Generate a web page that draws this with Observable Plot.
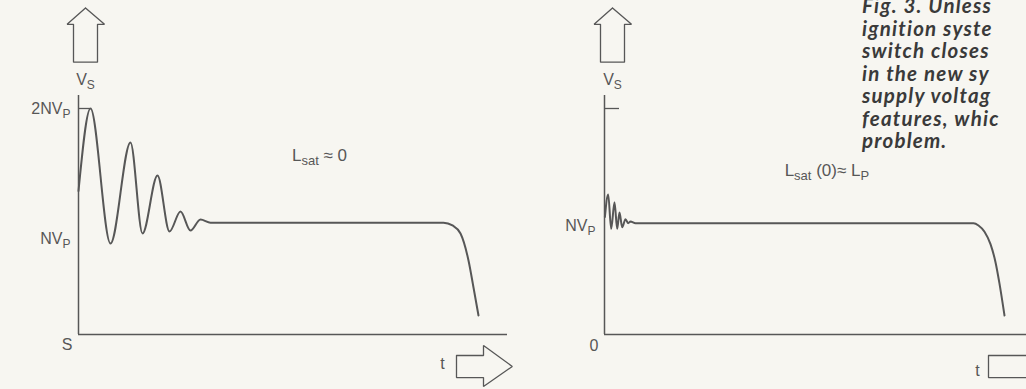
<!DOCTYPE html>
<html><head><meta charset="utf-8">
<script src="https://cdn.jsdelivr.net/npm/d3@7"></script>
<script src="https://cdn.jsdelivr.net/npm/@observablehq/plot@0.6"></script>
<style>
html,body{margin:0;padding:0;background:#f7f6f1;overflow:hidden;}
#wrap{position:relative;width:1026px;height:389px;overflow:hidden;}
#wrap svg{position:absolute;top:0;}
#caption{position:absolute;left:862px;top:-6px;font-family:"Lato";font-weight:700;font-style:italic;font-size:20.5px;line-height:22.5px;letter-spacing:1.2px;color:#3a3a3a;white-space:nowrap;}
</style></head><body>
<div id="wrap"><div id="caption"></div></div>
<script>
// ---------- data (t: time units, v: voltage in units of NV_P) ----------
const leftCurveT = [0, 3, 8, 13, 16, 19.75, 22.75, 25.5, 28, 30.5, 33, 91.25, 93.5, 95.5, 97.5, 98.75, 100];
const leftCurveV = [1.27, 2.0, 0.805, 1.70, 0.894, 1.407, 0.912, 1.088, 0.92, 1.018, 0.99, 0.99, 0.965, 0.894, 0.655, 0.416, 0.168];
const rightCurveT = [0.1, 0.92, 1.67, 2.5, 3.17, 3.75, 4.42, 5.25, 5.9, 6.5, 7.75, 92.25, 93.5, 95, 96.5, 97.75, 98.75, 100];
const rightCurveV = [1.04, 1.24, 0.935, 1.17, 0.935, 1.08, 0.95, 1.02, 0.985, 1.0, 0.985, 0.985, 0.965, 0.91, 0.8, 0.64, 0.45, 0.168];

const leftTickValues = [2, 1, 0];
const leftTickLabels = ["2NV_P", "NV_P", "S"];
const rightTickValues = [2, 1, 0];
const rightTickLabels = ["", "NV_P", "0"];

const leftAnnotation = "L_sat ≈ 0";
const rightAnnotation = "L_sat (0)≈ L_P";
const yAxisLabel = "V_S";
const xAxisLabel = "t";

const captionLines = ["Fig. 3. Unless", "ignition syste", "switch closes", "in the new sy", "supply voltag", "features, whic", "problem."];

// ---------- drawing ----------
const ink = "#575757";
const font = "Liberation Sans, Arial, sans-serif";

function lineData(ts, vs) { return ts.map((t, i) => ({t, v: vs[i]})); }

function upArrow(cx) {
  const pts = [[cx, 2.89], [cx + 4.75, 2.745], [cx + 3.0, 2.745], [cx + 3.0, 2.41], [cx - 3.0, 2.41], [cx - 3.0, 2.745], [cx - 4.6, 2.745], [cx, 2.89]];
  return pts.map(([t, v]) => ({t, v}));
}
function rightArrow(t0, shaft) {
  const pts = [[t0, -0.186], [t0 + shaft, -0.186], [t0 + shaft, -0.097], [t0 + shaft + 7.2, -0.283], [t0 + shaft, -0.46], [t0 + shaft, -0.381], [t0, -0.381], [t0, -0.186]];
  return pts.map(([t, v]) => ({t, v}));
}

function panel(cfg) {
  const ticks = cfg.tickValues.map((v, i) => ({v, label: cfg.tickLabels[i], dy: cfg.tickDy[i], dx: cfg.tickDx[i]}));
  const svg = Plot.plot({
    width: 513, height: 389,
    x: {domain: [0, 100], range: [cfg.x0, cfg.x0 + 400], axis: null},
    y: {domain: [0, 2], range: [334, 108], axis: null},
    style: {background: "transparent", overflow: "visible", fontFamily: font},
    marks: [
      Plot.ruleX([0], {y1: 0, y2: 2.115, stroke: ink, strokeWidth: 1.5}),
      Plot.ruleY([0], {x1: 0, x2: cfg.axisEnd, stroke: ink, strokeWidth: 1.5}),
      Plot.ruleY([2], {x1: 0, x2: cfg.tickLen, stroke: ink, strokeWidth: 1.3}),
      Plot.line(lineData(cfg.curveT, cfg.curveV), {x: "t", y: "v", curve: "monotone-x", stroke: ink, strokeWidth: 2}),
      Plot.line(upArrow(cfg.upX), {x: "t", y: "v", stroke: ink, strokeWidth: 1.3, strokeLinejoin: "miter"}),
      Plot.line(rightArrow(cfg.arrowStart, cfg.arrowShaft), {x: "t", y: "v", stroke: ink, strokeWidth: 1.3, strokeLinejoin: "miter"}),
      ...ticks.filter(d => d.label).map(d => Plot.text([d], {x: 0, y: "v", text: "label", textAnchor: "end", dx: d.dx, dy: d.dy, fill: ink, fontSize: 16, fontFamily: font})),
      Plot.text([yAxisLabel], {x: cfg.upX, y: 2.25, text: d => d, fill: ink, fontSize: 16, fontFamily: font}),
      Plot.text([xAxisLabel], {x: cfg.tX, y: cfg.tY, text: d => d, fill: ink, fontSize: 16, fontFamily: font}),
      Plot.text([cfg.annotation], {x: cfg.annX, y: cfg.annY, text: d => d, fill: ink, fontSize: 17, fontFamily: font})
    ]
  });
  svg.style.left = cfg.left + "px";
  applySubs(svg);
  return svg;
}

function applySubs(svg) {
  svg.querySelectorAll("text").forEach(t => {
    const s = t.textContent;
    if (!s.includes("_")) return;
    const fs = parseFloat(t.getAttribute("font-size") || t.parentNode.getAttribute("font-size") || 16);
    t.textContent = "";
    const parts = s.split(/_(\w+)/);
    let shifted = false;
    parts.forEach((p, i) => {
      if (!p) return;
      const ts = document.createElementNS("http://www.w3.org/2000/svg", "tspan");
      ts.textContent = p;
      if (i % 2) {
        ts.setAttribute("dy", "4"); ts.setAttribute("font-size", String(Math.round(fs * 0.75))); shifted = true;
      } else if (shifted) {
        ts.setAttribute("dy", "-4"); shifted = false;
      }
      t.appendChild(ts);
    });
  });
}

const wrap = document.getElementById("wrap");
wrap.appendChild(panel({
  left: 0, x0: 78, axisEnd: 107.25, tickLen: 3,
  curveT: leftCurveT, curveV: leftCurveV,
  tickValues: leftTickValues, tickLabels: leftTickLabels, tickDy: [0, 17, 10], tickDx: [-8, -8, -6],
  upX: 1.75, arrowStart: 94.5, arrowShaft: 6.75, tX: 91, tY: -0.26,
  annotation: leftAnnotation, annX: 60.25, annY: 1.584
}));
wrap.appendChild(panel({
  left: 513, x0: 91, axisEnd: 110, tickLen: 3.75,
  curveT: rightCurveT, curveV: rightCurveV,
  tickValues: rightTickValues, tickLabels: rightTickLabels, tickDy: [0, 4, 11], tickDx: [-8, -9, -6],
  upX: 2, arrowStart: 96, arrowShaft: 12, tX: 93.25, tY: -0.32,
  annotation: rightAnnotation, annX: 55.6, annY: 1.451
}));

const cap = document.getElementById("caption");
captionLines.forEach(l => { const d = document.createElement("div"); d.textContent = l; cap.appendChild(d); });
</script>
</body></html>
